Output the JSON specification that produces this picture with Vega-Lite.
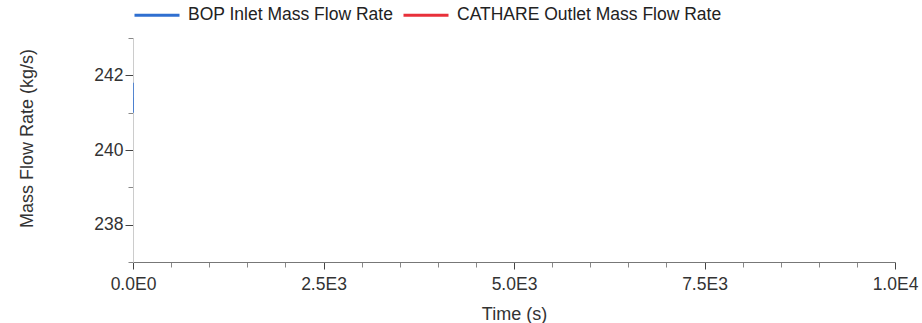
{
  "$schema": "https://vega.github.io/schema/vega-lite/v6.json",
  "autosize": "none",
  "width": 762,
  "height": 224,
  "padding": {"left": 133, "top": 38, "right": 27, "bottom": 61},
  "background": "white",
  "config": {
    "font": "Liberation Sans",
    "view": {"stroke": null}
  },
  "data": {
    "values": [
      {"time": 0, "flow": 241.8, "series": "BOP Inlet Mass Flow Rate"},
      {"time": 1, "flow": 241.0, "series": "BOP Inlet Mass Flow Rate"},
      {"time": 0, "flow": 241.0, "series": "CATHARE Outlet Mass Flow Rate"}
    ]
  },
  "mark": {"type": "line", "strokeWidth": 1.5, "clip": true},
  "encoding": {
    "x": {
      "field": "time",
      "type": "quantitative",
      "scale": {"domain": [0, 10000], "nice": false, "zero": false},
      "axis": {
        "title": "Time (s)",
        "values": [0, 500, 1000, 1500, 2000, 2500, 3000, 3500, 4000, 4500, 5000, 5500, 6000, 6500, 7000, 7500, 8000, 8500, 9000, 9500, 10000],
        "labelExpr": "datum.value % 2500 != 0 ? '' : (datum.value == 0 ? '0.0E0' : format(datum.value / pow(10, floor(log(datum.value) / LN10 + 1e-9)), '.1f') + 'E' + floor(log(datum.value) / LN10 + 1e-9))",
        "labelFlush": false,
        "labelFontSize": 17.5,
        "labelColor": "#333",
        "titleFontSize": 18,
        "titleFontWeight": "normal",
        "titleColor": "#333",
        "domainColor": "#777",
        "tickColor": {"condition": {"test": "datum.value % 2500 == 0", "value": "#444"}, "value": "#888"},
        "tickSize": {"condition": {"test": "datum.value % 2500 == 0", "value": 7}, "value": 5},
        "grid": false,
        "labelPadding": 6,
        "titlePadding": 13
      }
    },
    "y": {
      "field": "flow",
      "type": "quantitative",
      "scale": {"domain": [237, 243], "nice": false, "zero": false},
      "axis": {
        "title": "Mass Flow Rate (kg/s)",
        "values": [237, 238, 239, 240, 241, 242, 243],
        "labelExpr": "datum.value % 2 == 0 ? datum.value : ''",
        "labelFlush": false,
        "labelFontSize": 17.5,
        "labelColor": "#333",
        "titleFontSize": 18,
        "titleFontWeight": "normal",
        "titleColor": "#333",
        "titleX": -106,
        "titleY": 100,
        "titleAngle": -90,
        "titleBaseline": "middle",
        "titleAlign": "center",
        "domainColor": "#ccc",
        "tickColor": {"condition": {"test": "datum.value % 2 == 0", "value": "#444"}, "value": "#888"},
        "tickSize": {"condition": {"test": "datum.value % 2 == 0", "value": 8}, "value": 5},
        "grid": false,
        "labelPadding": 2
      }
    },
    "color": {
      "field": "series",
      "type": "nominal",
      "scale": {
        "domain": ["BOP Inlet Mass Flow Rate", "CATHARE Outlet Mass Flow Rate"],
        "range": ["#2f6fd0", "#e8303a"]
      },
      "legend": {
        "title": null,
        "orient": "top",
        "direction": "horizontal",
        "symbolType": "stroke",
        "symbolSize": 2025,
        "symbolStrokeWidth": 3,
        "labelFontSize": 17.5,
        "labelColor": "#222",
        "labelOffset": 7,
        "columnPadding": 3,
        "offset": 14,
        "labelLimit": 400
      }
    }
  }
}
